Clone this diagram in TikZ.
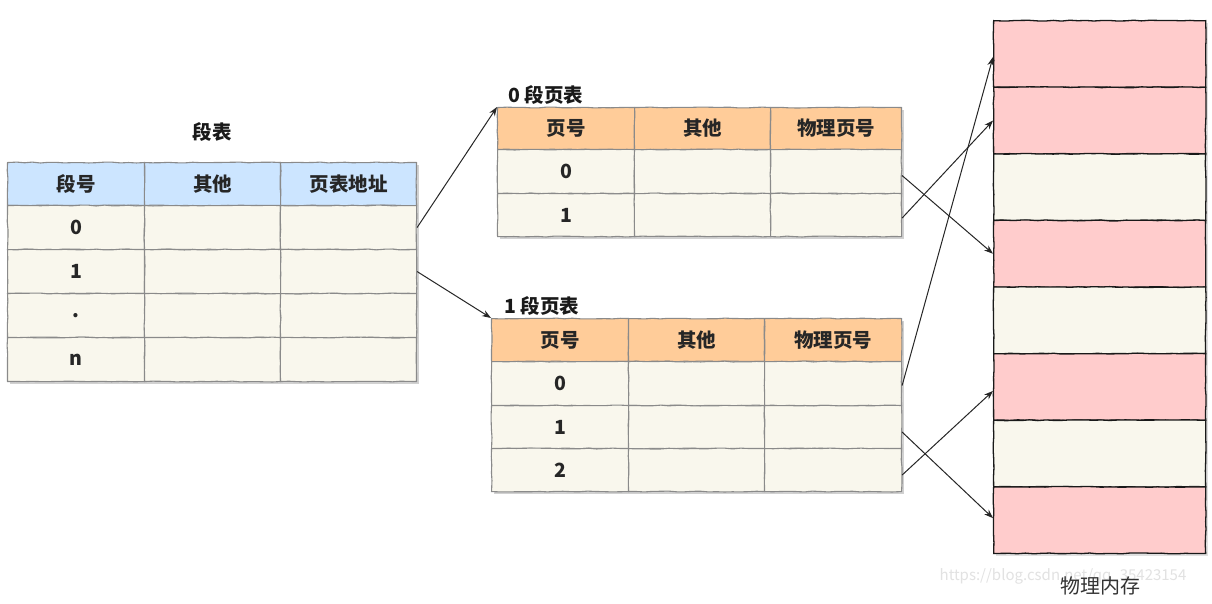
\documentclass[tikz,border=0pt]{standalone}
\usepackage{fontspec}
\setmainfont{Noto Sans CJK SC}
\usetikzlibrary{arrows.meta,decorations.pathmorphing}
\definecolor{bluehd}{HTML}{CCE5FF}
\definecolor{orghd}{HTML}{FFCC99}
\definecolor{cream}{HTML}{F9F7ED}
\definecolor{pinkm}{HTML}{FFCCCC}
\definecolor{gridc}{HTML}{8A8A8A}
\definecolor{wmark}{HTML}{E2E2E2}
\tikzset{
  sketch/.style={decorate, decoration={random steps, segment length=8pt, amplitude=0.45pt}},
  cell/.style={draw=gridc, line width=1.1pt, sketch, inner sep=0pt, anchor=north west,
    font=\bfseries\fontsize{19.5}{19.5}\selectfont, text=black!85},
  memcell/.style={draw=black!90, line width=1.3pt, sketch, inner sep=0pt, anchor=north west,
    minimum width=212, minimum height=66.6},
  shadow/.style={fill=black!18},
  title/.style={font=\bfseries\fontsize{19.5}{19.5}\selectfont, text=black!90, inner sep=0pt},
  arr/.style={-{Stealth[length=9pt,width=6.5pt]}, line width=1pt, black!85},
}
\newcommand\mkcell[7]{\node[cell, fill=#6, minimum width=#4, minimum height=#5] (#1) at (#2,#3) {#7};}
\begin{document}
\begin{tikzpicture}[x=1pt,y=-1pt]
\pgfmathsetseed{7}
\useasboundingbox[fill=white] (0,0) rectangle (1212,604);

% ---- segment table ----
\fill[shadow] (10,165) rectangle (419,384);
\node[title] (t1) at (212,132) {段表};
\mkcell{sh1}{7}{162}{137}{43}{bluehd}{段号}
\mkcell{sh2}{144}{162}{136}{43}{bluehd}{其他}
\mkcell{sh3}{280}{162}{136}{43}{bluehd}{页表地址}
\mkcell{s0a}{7}{205}{137}{44}{cream}{0}
\mkcell{s0b}{144}{205}{136}{44}{cream}{}
\mkcell{s0c}{280}{205}{136}{44}{cream}{}
\mkcell{s1a}{7}{249}{137}{44}{cream}{1}
\mkcell{s1b}{144}{249}{136}{44}{cream}{}
\mkcell{s1c}{280}{249}{136}{44}{cream}{}
\mkcell{s2a}{7}{293}{137}{44}{cream}{.}
\mkcell{s2b}{144}{293}{136}{44}{cream}{}
\mkcell{s2c}{280}{293}{136}{44}{cream}{}
\mkcell{s3a}{7}{337}{137}{44}{cream}{n}
\mkcell{s3b}{144}{337}{136}{44}{cream}{}
\mkcell{s3c}{280}{337}{136}{44}{cream}{}

% ---- page table of segment 0 ----
\fill[shadow] (500,110) rectangle (904,239);
\node[title, anchor=west] (t2) at (508,95) {0 段页表};
\mkcell{ph1}{497}{107}{137}{42}{orghd}{页号}
\mkcell{ph2}{634}{107}{136}{42}{orghd}{其他}
\mkcell{ph3}{770}{107}{131}{42}{orghd}{物理页号}
\mkcell{p0a}{497}{149}{137}{44}{cream}{0}
\mkcell{p0b}{634}{149}{136}{44}{cream}{}
\mkcell{p0c}{770}{149}{131}{44}{cream}{}
\mkcell{p1a}{497}{193}{137}{43}{cream}{1}
\mkcell{p1b}{634}{193}{136}{43}{cream}{}
\mkcell{p1c}{770}{193}{131}{43}{cream}{}

% ---- page table of segment 1 ----
\fill[shadow] (494,321) rectangle (904,494);
\node[title, anchor=west] (t3) at (504,306) {1 段页表};
\mkcell{qh1}{491}{318}{137}{43}{orghd}{页号}
\mkcell{qh2}{628}{318}{136}{43}{orghd}{其他}
\mkcell{qh3}{764}{318}{137}{43}{orghd}{物理页号}
\mkcell{q0a}{491}{361}{137}{44}{cream}{0}
\mkcell{q0b}{628}{361}{136}{44}{cream}{}
\mkcell{q0c}{764}{361}{137}{44}{cream}{}
\mkcell{q1a}{491}{405}{137}{43}{cream}{1}
\mkcell{q1b}{628}{405}{136}{43}{cream}{}
\mkcell{q1c}{764}{405}{137}{43}{cream}{}
\mkcell{q2a}{491}{448}{137}{43}{cream}{2}
\mkcell{q2b}{628}{448}{136}{43}{cream}{}
\mkcell{q2c}{764}{448}{137}{43}{cream}{}

% ---- physical memory ----
\fill[black!12] (996,23) rectangle (1208,556);
\node[memcell, fill=pinkm] (m1) at (993,20) {};
\node[memcell, fill=pinkm] (m2) at (993,86.6) {};
\node[memcell, fill=cream] (m3) at (993,153.2) {};
\node[memcell, fill=pinkm] (m4) at (993,219.8) {};
\node[memcell, fill=cream] (m5) at (993,286.4) {};
\node[memcell, fill=pinkm] (m6) at (993,353) {};
\node[memcell, fill=cream] (m7) at (993,419.6) {};
\node[memcell, fill=pinkm] (m8) at (993,486.2) {};

\node[font=\fontsize{15}{15}\selectfont, text=wmark, inner sep=0pt] (wm) at (1063,576) {https://blog.csdn.net/qq\_35423154};
\node[font=\fontsize{20}{20}\selectfont, text=black!80, inner sep=0pt] (lab) at (1100,586) {物理内存};

% ---- connectors ----
\draw[arr] (s0c.east) -- (ph1.north west);
\draw[arr] (s1c.east) -- (qh1.north west);
\draw[arr] ([yshift=-4pt]p0c.east) -- (m4.west);
\draw[arr] ([yshift=-3pt]p1c.east) -- (m2.west);
\draw[arr] ([yshift=-2pt]q0c.east) -- ([yshift=-3pt]m1.west);
\draw[arr] ([yshift=-5pt]q1c.east) -- ([yshift=2pt]m8.west);
\draw[arr] ([yshift=-5pt]q2c.east) -- ([yshift=-4pt]m6.west);
\end{tikzpicture}
\end{document}
